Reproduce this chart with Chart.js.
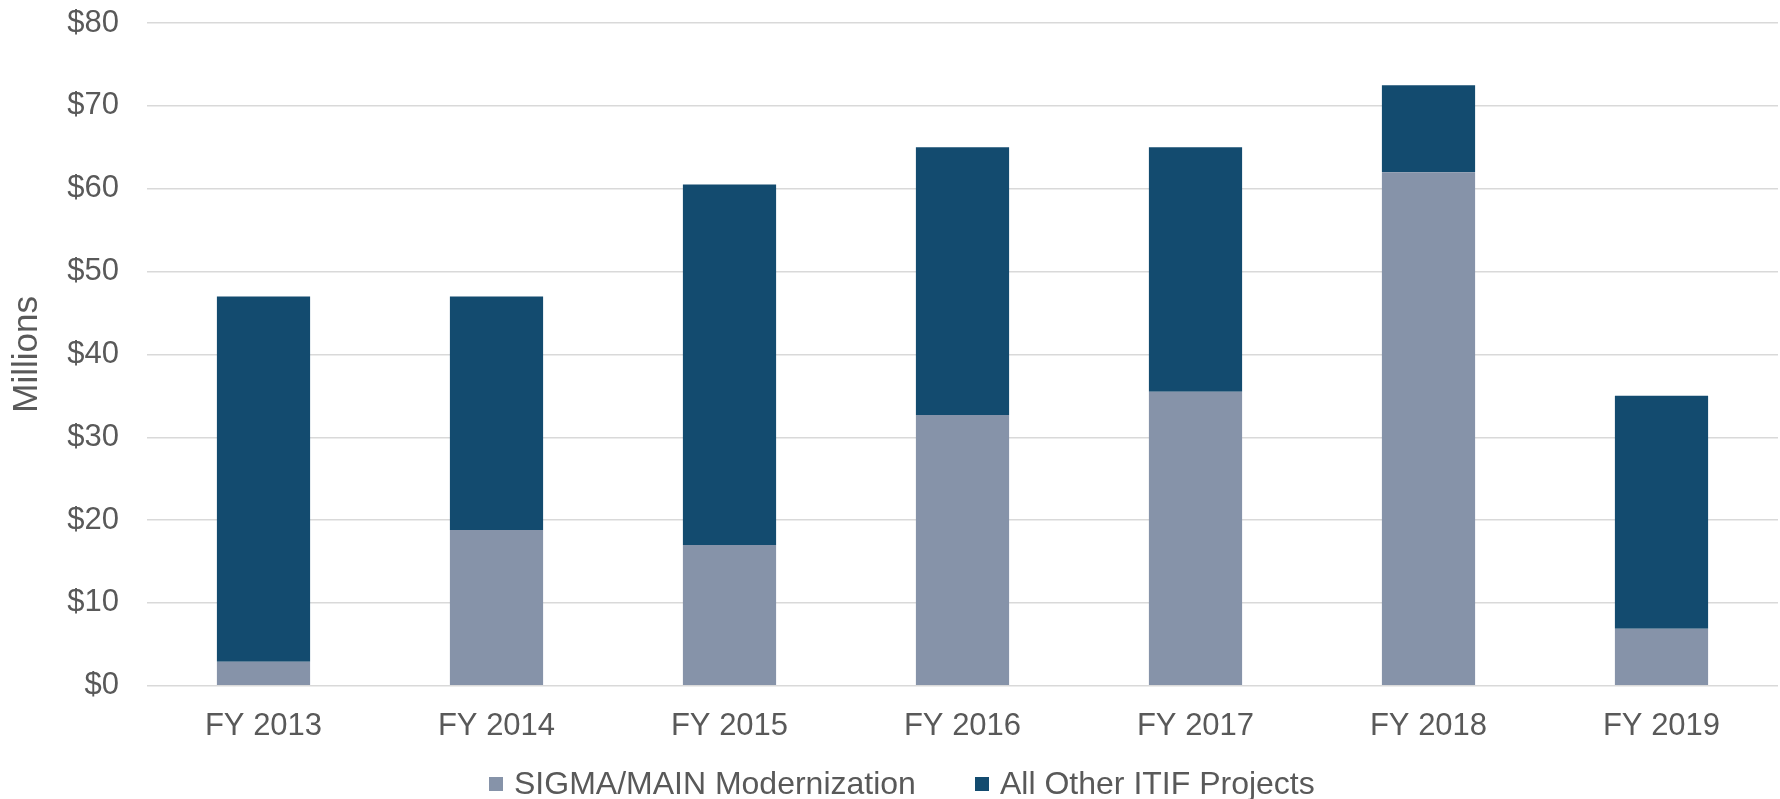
<!DOCTYPE html>
<html>
<head>
<meta charset="utf-8">
<script src="https://cdn.jsdelivr.net/npm/chart.js@4/dist/chart.umd.min.js"></script>
<style>
  html, body { margin: 0; padding: 0; background: #ffffff; }
  #wrap { width: 1780px; height: 799px; position: relative; overflow: hidden; }
  #legend { position: absolute; left: 0; top: 0; width: 1780px; height: 799px; pointer-events: none;
            font-family: 'Liberation Sans', Arial, sans-serif; font-size: 32px; color: #595959; }
  .item { position: absolute; top: 764px; height: 38px; line-height: 38px; white-space: nowrap; }
  .box { display: inline-block; width: 14px; height: 14px; vertical-align: middle; margin-right: 11px; position: relative; top: -2px; }
</style>
</head>
<body>
<div id="wrap"><canvas id="c" width="1780" height="799"></canvas><div id="legend"></div></div>
<script>
const categories = ["FY 2013", "FY 2014", "FY 2015", "FY 2016", "FY 2017", "FY 2018", "FY 2019"];
const sigmaMain = [2.9, 18.8, 17.0, 32.7, 35.5, 62.0, 6.9];
const allOther = [44.1, 28.2, 43.5, 32.3, 29.5, 10.5, 28.1];
const seriesNames = ["SIGMA/MAIN Modernization", "All Other ITIF Projects"];
const seriesColors = ["#8693A9", "#134B6F"];
const yTicks = [0, 10, 20, 30, 40, 50, 60, 70, 80];

const textColor = "#595959";
const fontFamily = "'Liberation Sans', Arial, sans-serif";

const chart = new Chart(document.getElementById("c"), {
  type: "bar",
  data: {
    labels: categories,
    datasets: [
      { label: seriesNames[0], data: sigmaMain, backgroundColor: seriesColors[0], borderWidth: 0 },
      { label: seriesNames[1], data: allOther, backgroundColor: seriesColors[1], borderWidth: 0 }
    ]
  },
  options: {
    responsive: false,
    animation: false,
    devicePixelRatio: 1,
    layout: { padding: { top: 23, right: 2, bottom: 32, left: 0 } },
    datasets: { bar: { categoryPercentage: 1.0, barPercentage: 0.4 } },
    plugins: {
      tooltip: { enabled: false },
      legend: { display: false }
    },
    scales: {
      x: {
        stacked: true,
        grid: { display: false, drawTicks: false },
        border: { display: false },
        ticks: { color: textColor, font: { family: fontFamily, size: 31 }, padding: 22, maxRotation: 0 }
      },
      y: {
        stacked: true,
        min: yTicks[0],
        max: yTicks[yTicks.length - 1],
        afterBuildTicks: (scale) => { scale.ticks = yTicks.map(v => ({ value: v })); },
        afterFit: (scale) => { scale.width = 147; },
        grid: { color: "#D9D9D9", lineWidth: 1.5, drawTicks: true, tickLength: 28, tickColor: "rgba(0,0,0,0)" },
        border: { display: false },
        ticks: {
          color: textColor,
          font: { family: fontFamily, size: 31 },
          padding: 0,
          callback: (v) => "$" + v
        },
        title: {
          display: true,
          text: "Millions",
          color: textColor,
          font: { family: fontFamily, size: 35 },
          padding: { top: 6, bottom: 0 }
        }
      }
    }
  }
});

// Legend built from the chart's own datasets
const legendEl = document.getElementById("legend");
const legendLefts = [489, 975];
chart.data.datasets.forEach((ds, i) => {
  const item = document.createElement("div");
  item.className = "item";
  item.style.left = legendLefts[i] + "px";
  const box = document.createElement("span");
  box.className = "box";
  box.style.background = ds.backgroundColor;
  item.appendChild(box);
  item.appendChild(document.createTextNode(ds.label));
  legendEl.appendChild(item);
});
</script>
</body>
</html>
